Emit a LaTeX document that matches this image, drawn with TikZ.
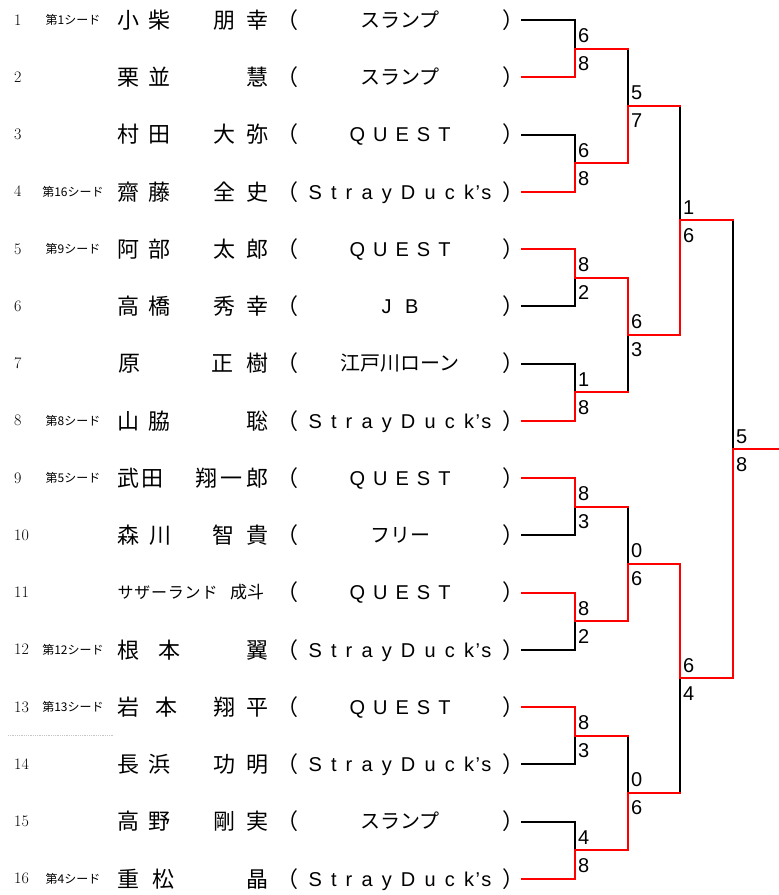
\documentclass[tikz,border=0pt]{standalone}
\usepackage{fontspec}
\usetikzlibrary{calc}
\newfontfamily\jp{Noto Sans CJK JP}
\newfontfamily\lat{Liberation Sans}
\newcommand\teamQ{{\lat\makebox[101pt]{Q\hfill U\hfill E\hfill S\hfill T}}}
\newcommand\teamSD{{\lat\makebox[183pt]{S\hfill t\hfill r\hfill a\hfill y\hfill D\hfill u\hfill c\hfill k\hspace{1.5pt}’\hspace{1.5pt}s}}}
\newcommand\teamJB{{\lat\makebox[37pt]{J\hfill B}}}
\newcommand\teamSL{スランプ}
\newcommand\teamED{江戸川ローン}
\newcommand\teamFR{フリー}
\newcommand\entry[5]{%
  \node[numtxt] (num#1) at (14,#2) {#1};
  \node[seedtxt] (seed#1) at (73,#2) {#3};
  \foreach \xx/\cc [count=\jj] in {#4} {\node[nmtxt] (nm#1-\jj) at (\xx,#2) {\cc};}
  \node[nmtxt] (lp#1) at (287,#2) {（};
  \node[teamtxt] (team#1) at (400,#2) {#5};
  \node[nmtxt] (rp#1) at (513,#2) {）};
  \coordinate (R#1) at (522,#2);
}
\newcommand\wpath[2]{\draw[winln] (#1) -| (#2);}
\newcommand\rpath[2]{\draw[loseln] (#1) -| (#2);}
\newcommand\lpath[2]{\draw[loseln] (#1 -| #2) -- (#2);\draw[winln] (#1) -- (#1 -| #2);}
\newcommand\scores[3]{%
  \node[scoretxt] (#1t) at ($(#1)+(3,-13)$) {#2};
  \node[scoretxt] (#1b) at ($(#1)+(3,15)$) {#3};
}
\begin{document}
\begin{tikzpicture}[x=1pt,y=-1pt,
  numtxt/.style={font=\fontsize{16}{16}\selectfont, anchor=base west, inner sep=0, yshift=-5.2pt},
  seedtxt/.style={font=\jp\fontsize{12}{12}\selectfont, anchor=base, inner sep=0, yshift=-4.6pt},
  nmtxt/.style={font=\jp\fontsize{22}{22}\selectfont, anchor=base, inner sep=0, yshift=-8.4pt},
  smalltxt/.style={font=\jp\fontsize{16}{16}\selectfont, anchor=base, inner sep=0, yshift=-6.1pt},
  teamtxt/.style={font=\jp\fontsize{20}{20}\selectfont, anchor=base, inner sep=0, yshift=-7.4pt},
  scoretxt/.style={font=\lat\fontsize{20}{20}\selectfont, anchor=west, inner sep=0},
  loseln/.style={draw=black, line width=2pt, line cap=rect},
  winln/.style={draw=red, line width=2pt, line cap=rect}]
\useasboundingbox (0,0) rectangle (779,895);

\entry{1}{20}{第1シード}{128/小,159/柴,224/朋,257/幸}{\teamSL}
\entry{2}{77.25}{}{128/栗,159/並,257/慧}{\teamSL}
\entry{3}{134.5}{}{128/村,159/田,224/大,257/弥}{\teamQ}
\entry{4}{191.75}{第16シード}{128/齋,159/藤,224/全,257/史}{\teamSD}
\entry{5}{249}{第9シード}{128/阿,159/部,224/太,257/郎}{\teamQ}
\entry{6}{306.25}{}{128/高,159/橋,224/秀,257/幸}{\teamJB}
\entry{7}{363.5}{}{129/原,222/正,257/樹}{\teamED}
\entry{8}{420.75}{第8シード}{128/山,159/脇,257/聡}{\teamSD}
\entry{9}{478}{第5シード}{128/武,152/田,206/翔,231/一,257/郎}{\teamQ}
\entry{10}{535.25}{}{128/森,160/川,223/智,257/貴}{\teamFR}
\entry{11}{592.5}{}{}{\teamQ}
\entry{12}{649.75}{第12シード}{128/根,169/本,257/翼}{\teamSD}
\entry{13}{707}{第13シード}{128/岩,166/本,224/翔,257/平}{\teamQ}
\entry{14}{764.25}{}{128/長,159/浜,224/功,257/明}{\teamSD}
\entry{15}{821.5}{}{128/高,159/野,224/剛,257/実}{\teamSL}
\entry{16}{878.75}{第4シード}{128/重,163/松,257/晶}{\teamSD}

\node[smalltxt] (nm11a) at (167.5,592.5) {\makebox[100pt]{サ\hfill ザ\hfill ー\hfill ラ\hfill ン\hfill ド}};
\node[smalltxt, font=\jp\fontsize{17}{17}\selectfont] (nm11b) at (247,592.5) {成斗};

\coordinate (d1) at (8,735.7);
\coordinate (d2) at (113,735.7);
\draw[gray!45, densely dotted, line width=0.8pt] (d1) -- (d2);

\coordinate (A11) at (575,48.625);
\coordinate (A12) at (575,163.125);
\coordinate (A13) at (575,277.625);
\coordinate (A14) at (575,392.125);
\coordinate (A15) at (575,506.625);
\coordinate (A16) at (575,621.125);
\coordinate (A17) at (575,735.625);
\coordinate (A18) at (575,850.125);
\coordinate (A21) at (628,105.875);
\coordinate (A22) at (628,334.875);
\coordinate (A23) at (628,563.875);
\coordinate (A24) at (628,792.875);
\coordinate (A31) at (680,220.375);
\coordinate (A32) at (680,678.375);
\coordinate (A4) at (733,449.375);
\coordinate (E) at (779,449.375);

% losers
\rpath{R1}{A11}\rpath{R3}{A12}\rpath{R6}{A13}\rpath{R7}{A14}
\rpath{R10}{A15}\rpath{R12}{A16}\rpath{R14}{A17}\rpath{R15}{A18}
\lpath{A11}{A21}\lpath{A14}{A22}\lpath{A15}{A23}\lpath{A17}{A24}
\lpath{A21}{A31}\lpath{A24}{A32}
\lpath{A31}{A4}
% winners
\wpath{R2}{A11}\wpath{R4}{A12}\wpath{R5}{A13}\wpath{R8}{A14}
\wpath{R9}{A15}\wpath{R11}{A16}\wpath{R13}{A17}\wpath{R16}{A18}
\wpath{A12}{A21}\wpath{A13}{A22}\wpath{A16}{A23}\wpath{A18}{A24}
\wpath{A22}{A31}\wpath{A23}{A32}
\wpath{A32}{A4}
\draw[winln] (A4) -- (E);

\scores{A11}{6}{8}\scores{A12}{6}{8}\scores{A13}{8}{2}\scores{A14}{1}{8}
\scores{A15}{8}{3}\scores{A16}{8}{2}\scores{A17}{8}{3}\scores{A18}{4}{8}
\scores{A21}{5}{7}\scores{A22}{6}{3}\scores{A23}{0}{6}\scores{A24}{0}{6}
\scores{A31}{1}{6}\scores{A32}{6}{4}
\scores{A4}{5}{8}
\end{tikzpicture}
\end{document}
